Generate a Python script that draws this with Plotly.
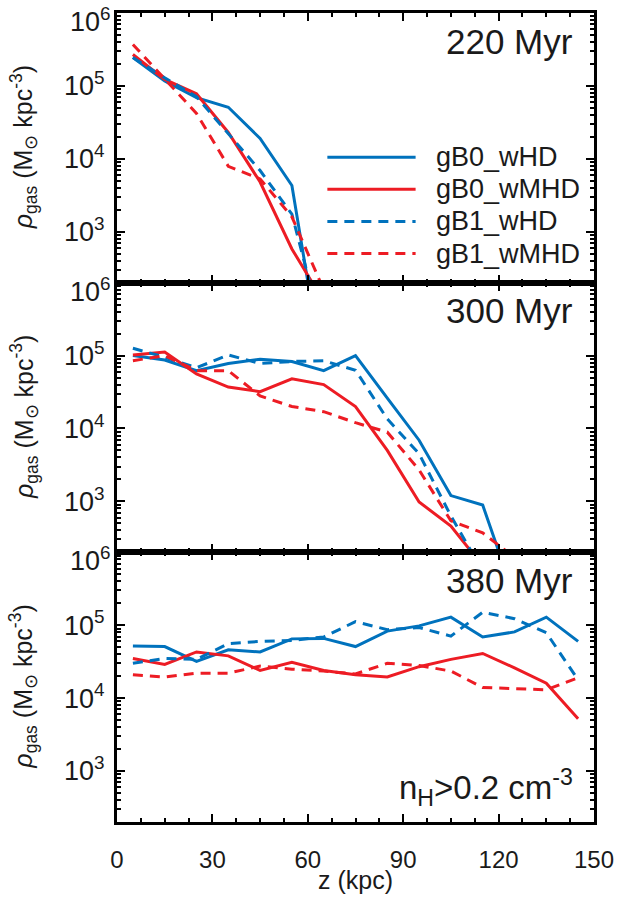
import numpy as np
import plotly.graph_objects as go
from plotly.subplots import make_subplots

# ---- data: gas density profiles along z (bin centres, kpc) ----
z = [5, 15, 25, 35, 45, 55, 65, 75, 85, 95, 105, 115, 125, 135, 145]

# 220 Myr
t220_gB0_wHD = [2.45e5, 1.17e5, 6.9e4, 5.1e4, 1.9e4, 4.3e3, 10]
t220_gB0_wMHD = [2.7e5, 1.23e5, 7.8e4, 2.3e4, 4.8e3, 5.8e2, 110]
t220_gB1_wHD = [2.45e5, 1.29e5, 7.1e4, 2.2e4, 6.9e3, 1.74e3, 37]
t220_gB1_wMHD = [3.7e5, 1.23e5, 4.2e4, 7.9e3, 5.3e3, 1.6e3, 160]

# 300 Myr
t300_gB0_wHD = [1.0e5, 8.7e4, 6.2e4, 7.8e4, 8.9e4, 8.3e4, 6.2e4, 1.0e5, 2.6e4,
                6.9e3, 1.2e3, 8.9e2, 49]
t300_gB0_wMHD = [1.02e5, 1.12e5, 5.6e4, 3.7e4, 3.2e4, 4.8e4, 4.0e4, 2.0e4, 5.0e3,
                 9.8e2, 4.6e2, 130]
t300_gB1_wHD = [1.26e5, 9.5e4, 6.8e4, 1.02e5, 7.8e4, 8.3e4, 8.5e4, 6.3e4, 1.35e4,
                4.5e3, 6.3e2, 110]
t300_gB1_wMHD = [8.5e4, 1.0e5, 6.2e4, 6.2e4, 2.8e4, 2.0e4, 1.7e4, 1.2e4, 8.9e3,
                 2.7e3, 5.4e2, 3.7e2, 170]

# 380 Myr
t380_gB0_wHD = [5.2e4, 5.1e4, 3.2e4, 4.6e4, 4.3e4, 6.5e4, 6.6e4, 5.1e4, 8.3e4,
                9.8e4, 1.29e5, 6.9e4, 8.1e4, 1.29e5, 6.0e4]
t380_gB0_wMHD = [3.5e4, 2.9e4, 4.3e4, 3.8e4, 2.4e4, 3.1e4, 2.4e4, 2.1e4, 1.95e4,
                 2.7e4, 3.4e4, 4.1e4, 2.6e4, 1.6e4, 5.2e3]
t380_gB1_wHD = [3.0e4, 3.5e4, 3.4e4, 5.6e4, 6.0e4, 6.2e4, 6.9e4, 1.12e5, 8.7e4,
                9.3e4, 7.1e4, 1.51e5, 1.23e5, 7.9e4, 1.78e4]
t380_gB1_wMHD = [2.1e4, 1.95e4, 2.2e4, 2.2e4, 2.75e4, 2.5e4, 2.35e4, 2.15e4, 3.0e4,
                 2.8e4, 2.35e4, 1.4e4, 1.35e4, 1.3e4, 1.9e4]

panel_labels = ["220 Myr", "300 Myr", "380 Myr"]
run_names = ["gB0_wHD", "gB0_wMHD", "gB1_wHD", "gB1_wMHD"]
y_ticks = [1e3, 1e4, 1e5]
y_ticktext = ["10<sup>3</sup>", "10<sup>4</sup>", "10<sup>5</sup>"]
y_top_label = "10<sup>6</sup>"

panels = [
    [t220_gB0_wHD, t220_gB0_wMHD, t220_gB1_wHD, t220_gB1_wMHD],
    [t300_gB0_wHD, t300_gB0_wMHD, t300_gB1_wHD, t300_gB1_wMHD],
    [t380_gB0_wHD, t380_gB0_wMHD, t380_gB1_wHD, t380_gB1_wMHD],
]

BLUE = "rgb(0,114,189)"
RED = "rgb(237,28,36)"
styles = [(BLUE, "solid"), (RED, "solid"), (BLUE, "10px,7px"), (RED, "10px,7px")]
FONT = "Liberation Sans, Arial, Helvetica, sans-serif"
TXT = "#1a1a1a"

fig = make_subplots(rows=3, cols=1, shared_xaxes=True, vertical_spacing=0)

for r, series in enumerate(panels, start=1):
    for name, vals, (col, dash) in zip(run_names, series, styles):
        fig.add_trace(
            go.Scatter(x=z[:len(vals)], y=vals, mode="lines", name=name,
                       line=dict(color=col, width=3, dash=dash),
                       showlegend=False),
            row=r, col=1)

minor_y = [m * 10 ** e for e in range(2, 6) for m in range(2, 10) if m * 10 ** e >= 200]
major_y = y_ticks + [1e6]

for r in range(1, 4):
    fig.update_xaxes(
        range=[0, 150], tickmode="linear", tick0=0, dtick=30,
        ticks="inside", ticklen=8, tickwidth=2, tickcolor="black",
        showline=True, linewidth=3, linecolor="black", mirror="allticks",
        showgrid=False, zeroline=False, automargin=False,
        minor=dict(ticks="inside", ticklen=4, tickwidth=2, tickcolor="black",
                   tick0=0, dtick=7.5, showgrid=False),
        showticklabels=(r == 3), ticklabeloverflow="allow",
        tickfont=dict(family=FONT, size=24, color=TXT),
        ticklabelstandoff=14,
        row=r, col=1)
    fig.update_yaxes(
        type="log", range=[np.log10(200), 6],
        tickmode="array", tickvals=major_y,
        ticktext=y_ticktext + [""],
        ticks="inside", ticklen=8, tickwidth=2, tickcolor="black",
        showline=True, linewidth=3, linecolor="black", mirror="allticks",
        showgrid=False, zeroline=False, automargin=False,
        minor=dict(ticks="inside", ticklen=4, tickwidth=2, tickcolor="black",
                   tickmode="array", tickvals=minor_y, showgrid=False),
        ticklabeloverflow="allow",
        tickfont=dict(family=FONT, size=27, color=TXT),
        ticklabelstandoff=4,
        row=r, col=1)

# x-axis title
fig.add_annotation(text="z (kpc)", xref="paper", yref="paper", x=0.5, y=-0.0717,
                   xanchor="center", yanchor="middle", showarrow=False,
                   font=dict(family=FONT, size=25, color=TXT))

# panel labels, y-axis titles, top decade label of each panel
ytitle = "<i>ρ</i><sub>gas</sub> (M<sub>⊙</sub> kpc<sup>-3</sup>)"
for r, lab in enumerate(panel_labels, start=1):
    ydom = fig.layout[f"yaxis{'' if r == 1 else r}"].domain
    ydomref = "y domain" if r == 1 else f"y{r} domain"
    fig.add_annotation(text=lab, xref="x domain", yref=ydomref,
                       x=0.96, y=0.975, xanchor="right", yanchor="top", showarrow=False,
                       font=dict(family=FONT, size=35, color=TXT))
    fig.add_annotation(text=ytitle, xref="paper", yref="paper",
                       x=-0.196, y=(ydom[0] + ydom[1]) / 2, textangle=-90,
                       xanchor="center", yanchor="middle", showarrow=False,
                       font=dict(family=FONT, size=25, color=TXT))
    fig.add_annotation(text=y_top_label, xref="paper", yref=ydomref,
                       x=0, y=1, xanchor="right", yanchor="middle", xshift=-4, yshift=-7,
                       showarrow=False, font=dict(family=FONT, size=27, color=TXT))

fig.add_annotation(text="n<sub>H</sub>>0.2 cm<sup>-3</sup>", xref="x3 domain", yref="y3 domain",
                   x=0.96, y=0.035, xanchor="right", yanchor="bottom", showarrow=False,
                   font=dict(family=FONT, size=33, color=TXT))

# legend (top panel)
for i, (name, (col, dash)) in enumerate(zip(run_names, styles)):
    yy = 0.465 - i * 0.119
    fig.add_shape(type="line", xref="x domain", yref="y domain",
                  x0=0.441, x1=0.626, y0=yy, y1=yy,
                  line=dict(color=col, width=3, dash=dash))
    fig.add_annotation(text=name, xref="x domain", yref="y domain",
                       x=0.665, y=yy, xanchor="left", yanchor="middle", showarrow=False,
                       font=dict(family=FONT, size=27, color=TXT))

fig.update_layout(
    width=619, height=918,
    margin=dict(l=117, r=25, t=13, b=96),
    paper_bgcolor="white", plot_bgcolor="white",
    showlegend=False,
)

fig.write_html("out.html")
